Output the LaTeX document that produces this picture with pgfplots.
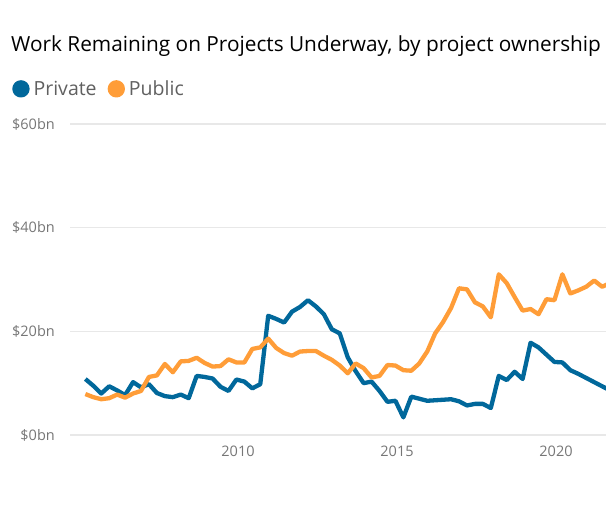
\documentclass[border=0pt]{standalone}
\usepackage{pgfplots}
\pgfplotsset{compat=1.18}
\usepackage{fontspec}
\setmainfont{Open Sans}
\definecolor{privblue}{RGB}{1,104,155}
\definecolor{puborange}{RGB}{255,157,56}
\definecolor{gridgray}{RGB}{232,232,232}
\definecolor{labelgray}{RGB}{118,118,118}
\definecolor{leggray}{RGB}{96,96,96}
\begin{document}
\begin{tikzpicture}
\path[use as bounding box] (0pt,0pt) rectangle (606pt,522pt);
\node[anchor=base west, inner sep=0pt, font=\fontsize{20.8}{24}\selectfont] at (11pt,470pt) {Work Remaining on Projects Underway, by project ownership};
\begin{axis}[
  at={(70pt,87pt)}, anchor=south west,
  scale only axis, width=536pt, height=311pt,
  xmin=2004.717, xmax=2021.572, ymin=0, ymax=60,
  xtick={2010,2015,2020}, ytick={0,20,40,60},
  axis line style={draw=none}, tick style={draw=none},
  ymajorgrids, grid style={line width=1.3pt, color=gridgray},
  /pgf/number format/assume math mode=true,
  /pgf/number format/1000 sep={},
  xticklabel style={font=\fontsize{14.5}{17}\selectfont, text=labelgray, anchor=north, inner sep=0pt, yshift=-11pt},
  yticklabel style={font=\fontsize{14.5}{17}\selectfont, text=labelgray, anchor=east, inner sep=0pt, xshift=-15pt},
  yticklabel={\$\pgfmathprintnumber{\tick}bn},
  legend columns=-1,
  legend image code/.code={\fill[#1] (6.5pt,0pt) circle (6.5pt);},
  legend style={draw=none, fill=none, at={(axis description cs:-0.108,1.113)}, anchor=west,
    inner sep=0pt, font=\fontsize{19.5}{23}\selectfont, text=leggray,
    nodes={inner sep=0pt},
    /tikz/every odd column/.style={column sep=4pt},
    /tikz/every even column/.style={column sep=11pt}},
  legend cell align=left,
]
\addplot[color=privblue, line width=4.3pt, line join=round] coordinates {
(2005.20,10.8)(2005.45,9.5)(2005.70,8.0)(2005.95,9.4)(2006.20,8.6)(2006.45,7.7)(2006.70,10.2)(2006.95,9.2)
(2007.20,9.8)(2007.45,8.1)(2007.70,7.5)(2007.95,7.3)(2008.20,7.8)(2008.45,7.1)(2008.70,11.4)(2008.95,11.2)
(2009.20,10.9)(2009.45,9.3)(2009.70,8.5)(2009.95,10.7)(2010.20,10.3)(2010.45,9.0)(2010.70,9.8)(2010.95,23.0)
(2011.20,22.4)(2011.45,21.7)(2011.70,23.8)(2011.95,24.7)(2012.20,26.0)(2012.45,24.8)(2012.70,23.3)(2012.95,20.4)
(2013.20,19.6)(2013.45,15.0)(2013.70,12.3)(2013.95,10.0)(2014.20,10.3)(2014.45,8.5)(2014.70,6.4)(2014.95,6.6)
(2015.20,3.4)(2015.45,7.4)(2015.70,7.0)(2015.95,6.6)(2016.20,6.7)(2016.45,6.8)(2016.70,6.9)(2016.95,6.5)
(2017.20,5.7)(2017.45,6.0)(2017.70,6.0)(2017.95,5.2)(2018.20,11.4)(2018.45,10.6)(2018.70,12.2)(2018.95,10.8)
(2019.20,17.8)(2019.45,16.9)(2019.70,15.5)(2019.95,14.1)(2020.20,14.0)(2020.45,12.5)(2020.70,11.8)(2020.95,11.0)
(2021.20,10.2)(2021.45,9.4)(2021.70,8.6)
};
\addlegendentry{Private}
\addplot[color=puborange, line width=4.3pt, line join=round] coordinates {
(2005.20,7.9)(2005.45,7.3)(2005.70,6.9)(2005.95,7.1)(2006.20,7.8)(2006.45,7.2)(2006.70,8.0)(2006.95,8.5)
(2007.20,11.2)(2007.45,11.5)(2007.70,13.7)(2007.95,12.1)(2008.20,14.2)(2008.45,14.3)(2008.70,14.9)(2008.95,13.9)
(2009.20,13.2)(2009.45,13.3)(2009.70,14.6)(2009.95,14.0)(2010.20,14.0)(2010.45,16.6)(2010.70,16.9)(2010.95,18.6)
(2011.20,16.8)(2011.45,15.8)(2011.70,15.3)(2011.95,16.1)(2012.20,16.2)(2012.45,16.2)(2012.70,15.3)(2012.95,14.5)
(2013.20,13.4)(2013.45,11.9)(2013.70,13.8)(2013.95,12.9)(2014.20,11.1)(2014.45,11.4)(2014.70,13.5)(2014.95,13.4)
(2015.20,12.5)(2015.45,12.4)(2015.70,13.8)(2015.95,16.1)(2016.20,19.6)(2016.45,21.8)(2016.70,24.5)(2016.95,28.3)
(2017.20,28.1)(2017.45,25.6)(2017.70,24.8)(2017.95,22.7)(2018.20,31.0)(2018.45,29.3)(2018.70,26.6)(2018.95,24.0)
(2019.20,24.3)(2019.45,23.3)(2019.70,26.2)(2019.95,26.0)(2020.20,31.0)(2020.45,27.3)(2020.70,27.9)(2020.95,28.6)
(2021.20,29.8)(2021.45,28.6)(2021.70,29.3)
};
\addlegendentry{Public}
\end{axis}
\end{tikzpicture}
\end{document}
